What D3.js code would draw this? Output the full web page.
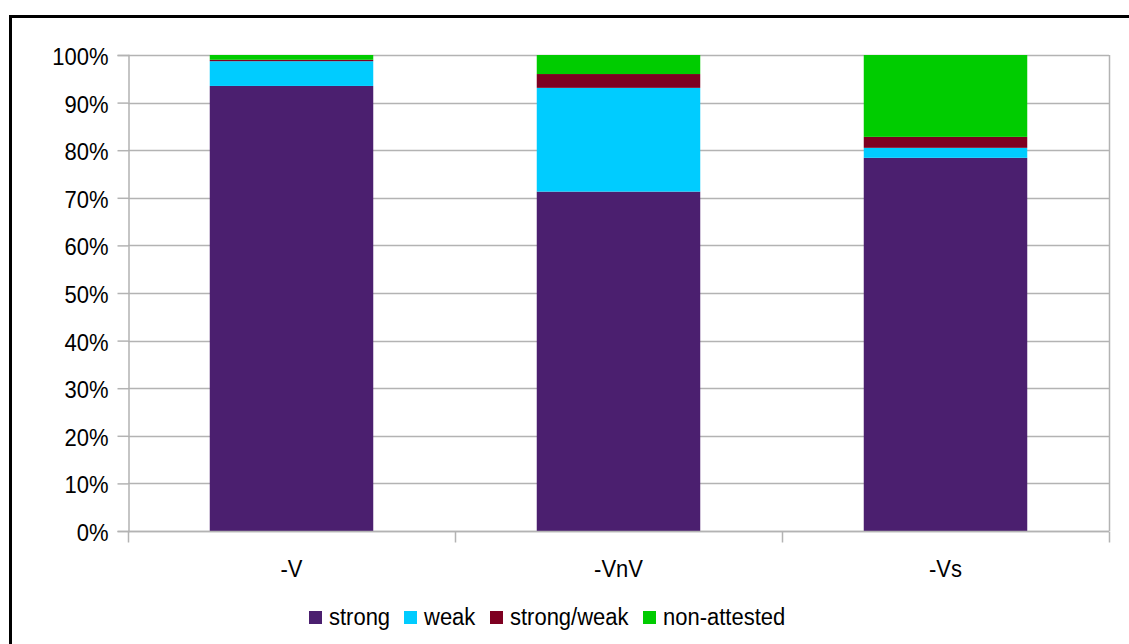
<!DOCTYPE html>
<html>
<head>
<meta charset="utf-8">
<script src="https://cdn.jsdelivr.net/npm/d3@7"></script>
<style>
  html, body { margin: 0; padding: 0; background: #fff; }
  svg { display: block; font-family: "Liberation Sans", Arial, sans-serif; }
</style>
</head>
<body>
<svg id="chart" width="1129" height="644"></svg>
<script>
// Categories and stacked percentage shares per category
const categories = ["-V", "-VnV", "-Vs"];
const strong      = [93.5, 71.3, 78.4];
const weak        = [5.2, 21.8, 2.1];
const strongWeak  = [0.3, 2.9, 2.3];
const nonAttested = [1.0, 4.0, 17.2];
const seriesNames = ["strong", "weak", "strong/weak", "non-attested"];
const seriesColors = ["#4b1f6f", "#00ccff", "#7e0021", "#00cc00"];
const yTicks = [0, 10, 20, 30, 40, 50, 60, 70, 80, 90, 100];

const rows = categories.map((c, i) => ({
  cat: c,
  "strong": strong[i],
  "weak": weak[i],
  "strong/weak": strongWeak[i],
  "non-attested": nonAttested[i]
}));

const svg = d3.select("#chart");
const FONT = "'Liberation Sans', Arial, sans-serif";
const STRETCH = "scale(1,1.1)"; // labels are drawn slightly taller than wide

// outer frame
svg.append("rect")
  .attr("x", 10.5).attr("y", 16.5)
  .attr("width", 1200).attr("height", 700)
  .attr("fill", "none").attr("stroke", "#000").attr("stroke-width", 3);

const plot = { left: 128, top: 55, right: 1109, bottom: 531 };

const x = d3.scaleBand().domain(categories).range([plot.left, plot.right]).paddingInner(0).paddingOuter(0);
const y = d3.scaleLinear().domain([0, 100]).range([plot.bottom, plot.top]);

const grid = "#b3b3b3";

// horizontal gridlines
svg.append("g").selectAll("line").data(yTicks).join("line")
  .attr("x1", plot.left).attr("x2", plot.right)
  .attr("y1", d => Math.round(y(d)) + 0.5).attr("y2", d => Math.round(y(d)) + 0.5)
  .attr("stroke", grid).attr("stroke-width", 1.5);

// right border of plot area
svg.append("line")
  .attr("x1", plot.right + 0.5).attr("x2", plot.right + 0.5)
  .attr("y1", plot.top).attr("y2", plot.bottom)
  .attr("stroke", grid).attr("stroke-width", 1.5);

// stacked bars
const stack = d3.stack().keys(seriesNames)(rows);
const bw = x.bandwidth() * 0.5;
svg.append("g").selectAll("g").data(stack).join("g")
  .attr("fill", (d, i) => seriesColors[i])
  .selectAll("rect").data(d => d).join("rect")
  .attr("x", d => x(d.data.cat) + (x.bandwidth() - bw) / 2)
  .attr("width", bw)
  .attr("y", d => y(d[1]))
  .attr("height", d => y(d[0]) - y(d[1]));

// y axis
const yAxis = d3.axisLeft(y).tickValues(yTicks).tickFormat(d => d + "%").tickSize(11).tickPadding(9);
const gy = svg.append("g").attr("transform", `translate(${plot.left + 0.5},0)`).call(yAxis);
gy.select(".domain").attr("stroke", grid).attr("stroke-width", 1.5);
gy.selectAll(".tick line").attr("stroke", grid).attr("stroke-width", 1.5);
gy.selectAll(".tick text")
  .attr("font-size", 22).attr("fill", "#000").attr("font-family", FONT)
  .attr("y", 0).attr("dy", null)
  .attr("transform", "translate(0,9.5) " + STRETCH);

// x axis with tick marks at band boundaries
const gx = svg.append("g").attr("transform", `translate(0,${plot.bottom + 0.5})`);
gx.append("line").attr("x1", plot.left).attr("x2", plot.right)
  .attr("stroke", grid).attr("stroke-width", 1.5);
const bounds = categories.map(c => x(c)).concat([plot.right]);
gx.selectAll("line.tk").data(bounds).join("line").attr("class", "tk")
  .attr("x1", d => Math.round(d) + 0.5).attr("x2", d => Math.round(d) + 0.5)
  .attr("y1", 0).attr("y2", 11)
  .attr("stroke", grid).attr("stroke-width", 1.5);
gx.selectAll("text").data(categories).join("text")
  .attr("transform", d => `translate(${x(d) + x.bandwidth() / 2},45) ${STRETCH}`)
  .attr("text-anchor", "middle")
  .attr("font-size", 22).attr("fill", "#000")
  .text(d => d);

// legend
const legendItems = [
  { name: "strong", x: 309 },
  { name: "weak", x: 404 },
  { name: "strong/weak", x: 490 },
  { name: "non-attested", x: 643 }
];
const lg = svg.append("g");
legendItems.forEach((it, i) => {
  lg.append("rect").attr("x", it.x).attr("y", 611).attr("width", 13).attr("height", 13)
    .attr("fill", seriesColors[i]);
  lg.append("text").attr("transform", `translate(${it.x + 20},625) ${STRETCH}`)
    .attr("font-size", 22).attr("fill", "#000").text(it.name);
});
</script>
</body>
</html>
